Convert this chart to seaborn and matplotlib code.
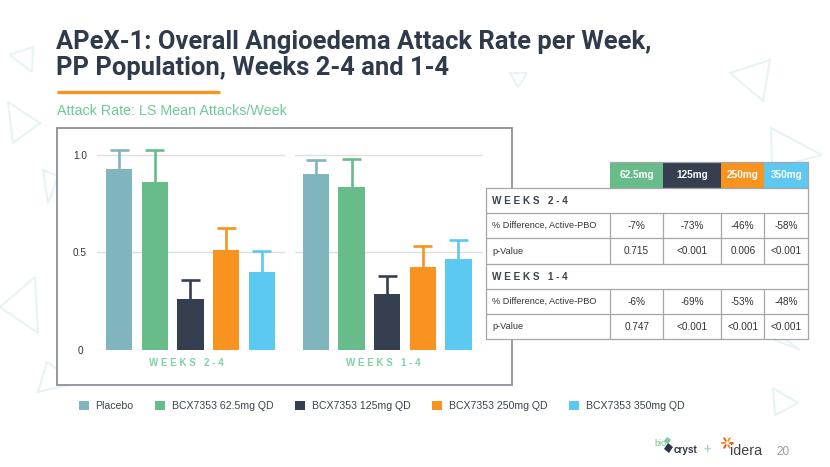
import matplotlib
matplotlib.use("Agg")
import matplotlib.pyplot as plt
import seaborn as sns
import pandas as pd
import numpy as np
from matplotlib.patches import Rectangle, Polygon

# ---------------- data ----------------
groups = ["Placebo", "BCX7353 62.5mg QD", "BCX7353 125mg QD",
          "BCX7353 250mg QD", "BCX7353 350mg QD"]
colors = ["#80B5BD", "#67BC89", "#363F4F", "#F7931E", "#5CC9F1"]
periods = ["WEEKS 2-4", "WEEKS 1-4"]
means_w24 = [0.93, 0.86, 0.26, 0.51, 0.40]
upper_w24 = [1.025, 1.025, 0.355, 0.625, 0.505]
means_w14 = [0.90, 0.835, 0.285, 0.425, 0.465]
upper_w14 = [0.975, 0.978, 0.38, 0.53, 0.565]
yticks = [0, 0.5, 1.0]
ytick_labels = ["0", "0.5", "1.0"]

doses = ["62.5mg", "125mg", "250mg", "350mg"]
dose_colors = colors[1:]
row_diff = "% Difference, Active-PBO"
row_p = "p-Value"
diff_w24 = ["-7%", "-73%", "-46%", "-58%"]
pval_w24 = ["0.715", "<0.001", "0.006", "<0.001"]
diff_w14 = ["-6%", "-69%", "-53%", "-48%"]
pval_w14 = ["0.747", "<0.001", "<0.001", "<0.001"]

title_lines = ["APeX-1: Overall Angioedema Attack Rate per Week,",
               "PP Population, Weeks 2-4 and 1-4"]
subtitle = "Attack Rate: LS Mean Attacks/Week"
page_no = "20"

# ---------------- setup ----------------
sns.set_theme(style="white")
plt.rcParams["font.family"] = ["Liberation Sans", "DejaVu Sans"]

W, H = 830, 467
fig = plt.figure(figsize=(W / 100, H / 100), dpi=100)
fig.patch.set_facecolor("white")


def spaced(s):
    word, rng = s.split(" ")
    return " ".join(word) + "   " + " ".join(rng)


def ax_rect(l, r, t, b):
    return [l / W, 1 - b / H, (r - l) / W, (b - t) / H]


# background overlay (pixel coords)
bg = fig.add_axes([0, 0, 1, 1], zorder=0)
bg.set_xlim(0, W)
bg.set_ylim(H, 0)
bg.axis("off")

tri_col = "#E7F3F4"
triangles = [
    [(10, 55), (33, 47), (32, 72)],
    [(8, 102), (40, 123), (13, 143)],
    [(43, 170), (58, 176), (48, 203)],
    [(0, 307), (35, 277), (38, 333)],
    [(38, 392), (47, 362), (77, 383)],
    [(730, 73), (770, 60), (763, 101)],
    [(771, 128), (822, 155), (772, 168)],
    [(510, 73), (527, 73), (518, 87)],
    [(773, 388), (798, 403), (775, 415)],
    [(775, 340), (800, 350), (773, 330)],
]
for t in triangles:
    bg.add_patch(Polygon(t, closed=True, fill=False, edgecolor=tri_col,
                         linewidth=1.5, joinstyle="miter"))

# chart frame
bg.add_patch(Rectangle((57, 128), 512 - 57, 385 - 128, facecolor="white",
                       edgecolor="#8C9096", linewidth=1.3, zorder=2))

# titles
title_col = "#2F3A4B"
tfam = ["Roboto", "Liberation Sans"]
bg.text(56, 49, title_lines[0], fontsize=18.4, fontweight="bold",
        color=title_col, va="baseline", ha="left", family=tfam)
bg.text(56, 74.5, title_lines[1], fontsize=18.4, fontweight="bold",
        color=title_col, va="baseline", ha="left", family=tfam)
bg.plot([57, 220], [92, 92], color="#F7941D", linewidth=2.4,
        solid_capstyle="butt")
bg.text(57, 115, subtitle, fontsize=10.3, color="#6DCB94",
        va="baseline", ha="left")

# ---------------- bar panels ----------------
y0_px, y1_px = 349.5, 155.0
px_per_unit = y0_px - y1_px
top_px = 142
ytop = (y0_px - top_px) / px_per_unit
cap_half = 0.27

panels = [
    (96.7, 285.0, means_w24, upper_w24, -0.63, 4.65),
    (295.0, 483.3, means_w14, upper_w14, -0.59, 4.70),
]
for k, (l, r, means, upper, xl, xr) in enumerate(panels):
    ax = fig.add_axes(ax_rect(l, r, top_px, y0_px), zorder=3)
    ax.patch.set_alpha(0)
    df = pd.DataFrame({"group": groups, "mean": means})
    sns.barplot(data=df, x="group", y="mean", hue="group", order=groups,
                hue_order=groups, palette=colors, saturation=1, width=0.74,
                dodge=False, legend=False, ax=ax, zorder=3, linewidth=0)
    xs = np.arange(len(groups))
    ax.vlines(xs, means, upper, colors=colors, linewidth=1.9, zorder=2.5)
    ax.hlines(upper, xs - cap_half, xs + cap_half, colors=colors,
              linewidth=1.9, zorder=2.5)
    ax.set_xlim(xl, xr)
    ax.set_ylim(0, ytop)
    ax.set_yticks(yticks)
    ax.yaxis.grid(True, color="#DCDFE2", linewidth=1.0, zorder=0)
    ax.set_axisbelow(True)
    for s in ax.spines.values():
        s.set_visible(False)
    ax.set_xticks([])
    ax.set_xlabel("")
    ax.set_ylabel("")
    if k == 0:
        ax.set_yticklabels(ytick_labels, fontsize=7.2, color="#333333")
        ax.tick_params(axis="y", length=0, pad=12)
        for lab in ax.get_yticklabels():
            lab.set_horizontalalignment("center")
    else:
        ax.set_yticklabels([])
        ax.tick_params(axis="y", length=0)
    ax.text(1.88, -(362.7 - y0_px) / px_per_unit, spaced(periods[k]),
            ha="center", va="center", fontsize=7.0, fontweight="bold",
            color="#7DD3A3")

# ---------------- legend ----------------
handles = [Rectangle((0, 0), 1, 1, facecolor=c, edgecolor="none") for c in colors]
fig.legend(handles, groups, loc="center left",
           bbox_to_anchor=(79 / W, 1 - 406 / H), ncol=5, frameon=False,
           fontsize=7.6, handlelength=0.95, handleheight=0.95,
           handletextpad=0.62, columnspacing=2.05, borderpad=0,
           borderaxespad=0, labelcolor="#3A4350")

# ---------------- table ----------------
tb = fig.add_axes([0, 0, 1, 1], zorder=6)
tb.set_xlim(0, W)
tb.set_ylim(H, 0)
tb.axis("off")
tb.patch.set_alpha(0)

cx = [486, 610, 663.3, 721.3, 764.3, 808.3]
hy = (162.3, 188.3)
ry = [188.3, 213.3, 238.3, 264.0, 289.3, 314.3, 339.3]
grid_c = "#A3A7AD"

tb.add_patch(Rectangle((cx[0], ry[0]), cx[-1] - cx[0], ry[-1] - ry[0],
                       facecolor="white", edgecolor="none"))
for j, (d, c) in enumerate(zip(doses, dose_colors)):
    tb.add_patch(Rectangle((cx[j + 1], hy[0]), cx[j + 2] - cx[j + 1],
                           hy[1] - hy[0], facecolor=c, edgecolor="none"))
    tb.text((cx[j + 1] + cx[j + 2]) / 2, (hy[0] + hy[1]) / 2, d,
            ha="center", va="center", color="white", fontsize=7.2,
            fontweight="bold")

rows = [
    ("section", spaced(periods[0]), None),
    ("data", row_diff, diff_w24),
    ("data", row_p, pval_w24),
    ("section", spaced(periods[1]), None),
    ("data", row_diff, diff_w14),
    ("data", row_p, pval_w14),
]
lw = 0.9
for i, (kind, label, vals) in enumerate(rows):
    t, b = ry[i], ry[i + 1]
    ym = (t + b) / 2
    if kind == "section":
        tb.text(cx[0] + 6, ym, label, ha="left", va="center", fontsize=7.2,
                fontweight="bold", color="#3A4350")
    else:
        tb.text(cx[0] + 6, ym, label, ha="left", va="center", fontsize=6.6,
                color="#333333")
        for j, v in enumerate(vals):
            tb.text((cx[j + 1] + cx[j + 2]) / 2, ym, v, ha="center",
                    va="center", fontsize=7.2, color="#333333")
        for x in cx[1:-1]:
            tb.plot([x, x], [t, b], color=grid_c, linewidth=lw)
for y in ry:
    tb.plot([cx[0], cx[-1]], [y, y], color=grid_c, linewidth=lw)
tb.plot([cx[0], cx[0]], [ry[0], ry[-1]], color=grid_c, linewidth=lw)
tb.plot([cx[-1], cx[-1]], [hy[0], ry[-1]], color=grid_c, linewidth=lw)
tb.plot([cx[1], cx[-1]], [hy[0], hy[0]], color=grid_c, linewidth=lw)

# ---------------- footer / logos ----------------
tb.text(654, 446, "bio", fontsize=6.5, color="#6CC58F", ha="left", va="baseline")
tb.add_patch(Polygon([(668, 443), (673, 447), (669, 453), (664, 449)],
                     closed=True, facecolor="#2C3545", edgecolor="none"))
tb.add_patch(Polygon([(667, 437), (671, 440), (668, 444), (664, 441)],
                     closed=True, facecolor="#7DCB97", edgecolor="none"))
tb.text(674, 453, "cryst", fontsize=7.2, color="#2C3545", ha="left",
        va="baseline", fontweight="bold")
tb.text(703, 453.5, "+", fontsize=9, color="#A9CDD4", ha="left",
        va="baseline", fontweight="bold")
star_c = ["#F15A29", "#F7941D", "#E84A27", "#F7941D", "#F15A29", "#F7941D"]
for a, sc in zip(np.linspace(0, 2 * np.pi, 7)[:-1], star_c):
    tb.plot([727 + 2.5 * np.cos(a), 727 + 5.5 * np.cos(a)],
            [443 + 2.5 * np.sin(a), 443 + 5.5 * np.sin(a)],
            color=sc, linewidth=1.4, solid_capstyle="round")
tb.text(730, 455, "idera", fontsize=10.3, color="#3A3F4A", ha="left",
        va="baseline")
tb.text(776, 455, page_no, fontsize=8.5, color="#9A9A9A", ha="left",
        va="baseline")

fig.savefig("out.png", dpi=100, facecolor="white")
